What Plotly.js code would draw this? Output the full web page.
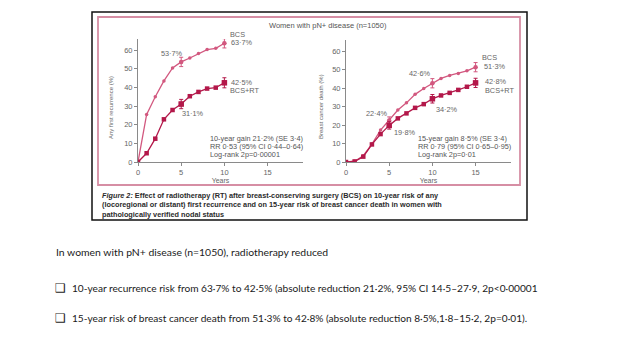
<!DOCTYPE html>
<html>
<head>
<meta charset="utf-8">
<script src="https://cdn.plot.ly/plotly-3.0.1.min.js"></script>
<style>
html,body{margin:0;padding:0;background:#fff;}
#chart{width:638px;height:359px;}
</style>
</head>
<body>
<div id="chart"></div>
<script>
// ---- data ----
const yearsRec = [0,1,2,3,4,5,6,7,8,9,10];
const recBCS   = [0,25.5,35,43.5,50.5,53.7,55.8,58.2,60.3,61,63.7];
const recRT    = [0,4.7,12.5,22.9,27.9,31.1,35.3,37.6,39.4,39.9,42.5];
const recErrYears = [5,10];
const recErrBCS = [2.5,2.5];
const recErrRT  = [2.5,2.7];

const yearsDeath = [0,1,2,3,4,5,6,7,8,9,10,11,12,13,14,15];
const deathBCS = [0,0.4,3.4,9.7,17.3,22.4,28.1,32,36.6,39.8,42.6,45.2,46.8,47.9,49.3,51.3];
const deathRT  = [0,0.3,2.9,9.5,15.1,19.8,23.6,26.3,29.3,31.3,34.2,36,37.4,39,40.7,42.8];
const deathErrYears = [5,10,15];
const deathErrBCS = [2,2.5,2.5];
const deathErrRT  = [2,2.3,2.5];

const xTicks = [0,5,10,15];
const yTicks = [0,10,20,30,40,50,60];

// ---- helpers ----
const W = 638, H = 359;
const px = x => x / W;
const py = y => 1 - y / H;
const colBCS = '#d2587f';
const colRT = '#b3184a';
const grey = '#666666';

function pick(xs, ys, sel){ return sel.map(v => ys[xs.indexOf(v)]); }

function lineTrace(x, y, xa, ya, col, sym, size, w){
  return {x:x, y:y, xaxis:xa, yaxis:ya, type:'scatter', mode:'lines+markers',
    line:{color:col, width:w}, marker:{color:col, symbol:sym, size:size},
    hoverinfo:'skip', showlegend:false};
}
function errTrace(xs, ys, sel, err, xa, ya, col, sym, size){
  return {x:sel, y:pick(xs, ys, sel), xaxis:xa, yaxis:ya, type:'scatter', mode:'markers',
    marker:{color:col, symbol:sym, size:size},
    error_y:{type:'data', array:err, visible:true, color:col, thickness:1, width:2},
    hoverinfo:'skip', showlegend:false};
}

const data = [
  lineTrace(yearsRec, recBCS, 'x', 'y', colBCS, 'circle', 3.5, 1.3),
  lineTrace(yearsRec, recRT, 'x', 'y', colRT, 'square', 4.5, 1.3),
  errTrace(yearsRec, recBCS, recErrYears, recErrBCS, 'x', 'y', colBCS, 'circle', 4.5),
  errTrace(yearsRec, recRT, recErrYears, recErrRT, 'x', 'y', colRT, 'square', 5.5),
  lineTrace(yearsDeath, deathBCS, 'x2', 'y2', colBCS, 'circle', 3.5, 1.3),
  lineTrace(yearsDeath, deathRT, 'x2', 'y2', colRT, 'square', 4.5, 1.3),
  errTrace(yearsDeath, deathBCS, deathErrYears, deathErrBCS, 'x2', 'y2', colBCS, 'circle', 4.5),
  errTrace(yearsDeath, deathRT, deathErrYears, deathErrRT, 'x2', 'y2', colRT, 'square', 5.5)
];

function xAxis(d, anchor){
  return {domain:d, anchor:anchor, range:[0,19.1], tickvals:xTicks, ticktext:xTicks.map(String),
    showline:true, linecolor:'#8a8a8a', linewidth:1, ticks:'outside', ticklen:3, tickcolor:'#8a8a8a',
    showgrid:false, zeroline:false, tickfont:{family:'Liberation Sans', size:7.5, color:grey},
    title:{text:'Years', font:{family:'Liberation Sans', size:7, color:grey}, standoff:1}};
}
function yAxis(d, anchor){
  return {domain:d, anchor:anchor, range:[0,66], tickvals:yTicks, ticktext:yTicks.map(String),
    showline:true, linecolor:'#8a8a8a', linewidth:1, ticks:'outside', ticklen:3, tickcolor:'#8a8a8a',
    showgrid:false, zeroline:false, tickfont:{family:'Liberation Sans', size:7.5, color:grey}};
}

function ann(text, x, y, opts){
  return Object.assign({text:text, x:px(x), y:py(y), xref:'paper', yref:'paper', showarrow:false,
    xanchor:'left', yanchor:'middle', borderpad:0, font:{family:'Liberation Sans', size:7.3, color:grey}}, opts||{});
}
const statFont = {family:'Liberation Sans', size:7.3, color:'#555'};

const capFont = {family:'Liberation Sans', size:7.3, color:'#2b2b2b'};
const bodyFont1 = {family:'Lato', size:10.4, color:'#1a1a1a'};
const bodyFont = {family:'Lato', size:10.15, color:'#1a1a1a'};
const boxFont = {family:'DejaVu Sans', size:12, color:'#1a1a1a'};

const annotations = [
  ann('Women with pN+ disease (n=1050)', 328, 25, {xanchor:'center', font:{family:'Liberation Sans', size:7.5, color:'#555'}}),
  ann('Any first recurrence (%)', 111, 108, {xanchor:'center', textangle:-90, font:{family:'Liberation Sans', size:6, color:grey}}),
  ann('Breast cancer death (%)', 321, 107, {xanchor:'center', textangle:-90, font:{family:'Liberation Sans', size:6, color:grey}}),
  // left labels
  ann('BCS', 229, 35),
  ann('63·7%', 230, 43),
  ann('53·7%', 160, 53),
  ann('42·5%', 230, 82),
  ann('BCS+RT', 229, 90.5),
  ann('31·1%', 181, 113),
  ann('10-year gain 21·2% (SE 3·4)', 209, 138, {font:statFont}),
  ann('RR 0·53 (95% CI 0·44–0·64)', 209, 146.5, {font:statFont}),
  ann('Log-rank 2p=0·00001', 209, 155, {font:statFont}),
  // right labels
  ann('BCS', 481, 57.5),
  ann('51·3%', 483, 66),
  ann('42·6%', 408, 73),
  ann('42·8%', 484, 81.5),
  ann('BCS+RT', 484, 90),
  ann('34·2%', 435, 109),
  ann('22·4%', 365, 114),
  ann('19·8%', 393, 132),
  ann('15-year gain 8·5% (SE 3·4)', 417, 138, {font:statFont}),
  ann('RR 0·79 (95% CI 0·65–0·95)', 417, 146.5, {font:statFont}),
  ann('Log-rank 2p=0·01', 417, 155, {font:statFont}),
  // caption
  ann('<b><i>Figure 2:</i> Effect of radiotherapy (RT) after breast-conserving surgery (BCS) on 10-year risk of any</b>', 101, 195, {font:capFont}),
  ann('<b>(locoregional or distant) first recurrence and on 15-year risk of breast cancer death in women with</b>', 101, 204.5, {font:capFont}),
  ann('<b>pathologically verified nodal status</b>', 101, 214, {font:capFont}),
  // body text
  ann('In women with pN+ disease (n=1050), radiotherapy reduced', 55, 252, {font:bodyFont1}),
  ann('\u2751', 54, 288, {font:boxFont}),
  ann('10-year recurrence risk from 63·7% to 42·5% (absolute reduction 21·2%, 95% CI 14·5–27·9, 2p<0·00001', 71, 288, {font:bodyFont}),
  ann('\u2751', 54, 318, {font:boxFont}),
  ann('15-year risk of breast cancer death from 51·3% to 42·8% (absolute reduction 8·5%,1·8–15·2, 2p=0·01).', 71, 318, {font:bodyFont})
];

const shapes = [
  {type:'rect', xref:'paper', yref:'paper', x0:px(92), x1:px(527), y0:py(12), y1:py(220), line:{color:'#111', width:1.5}},
  {type:'rect', xref:'paper', yref:'paper', x0:px(98), x1:px(520), y0:py(17), y1:py(185), line:{color:'#d68ea4', width:1.8}}
];

const layout = {
  width:W, height:H, margin:{l:0,r:0,t:0,b:0},
  paper_bgcolor:'#fff', plot_bgcolor:'rgba(0,0,0,0)', showlegend:false,
  xaxis: xAxis([px(138), px(303)], 'y'),
  yaxis: yAxis([py(162), py(39)], 'x'),
  xaxis2: xAxis([px(346), px(511)], 'y2'),
  yaxis2: yAxis([py(162), py(40)], 'x2'),
  annotations: annotations,
  shapes: shapes
};

Plotly.newPlot('chart', data, layout, {displayModeBar:false, staticPlot:true});
</script>
</body>
</html>
